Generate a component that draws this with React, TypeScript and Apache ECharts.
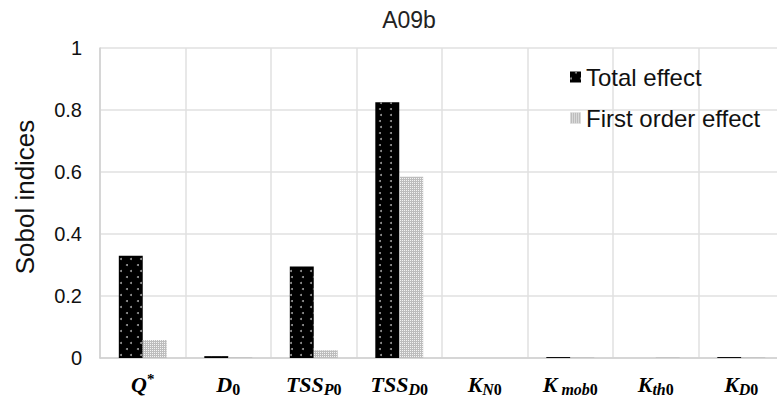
import React, { useEffect, useRef } from "react";
import * as echarts from "echarts";

const categories = ["Q", "D", "TSSP", "TSSD", "KN", "Kmob", "Kth", "KD"];
const categoryLabels = [
  "{m|Q}{sup|*}",
  "{m|D}{sub|0}",
  "{m|TSS}{subi|P}{sub|0}",
  "{m|TSS}{subi|D}{sub|0}",
  "{m|K}{subi|N}{sub|0}",
  "{m|K}{subi| mob}{sub|0}",
  "{m|K}{subi|th}{sub|0}",
  "{m|K}{subi|D}{sub|0}",
];
const totalEffect = [0.33, 0.006, 0.295, 0.825, 0, 0.003, 0, 0.003];
const firstOrderEffect = [0.058, 0.002, 0.025, 0.585, 0, 0.002, 0.002, 0.002];
const yTicks = [0, 0.2, 0.4, 0.6, 0.8, 1];

export default function App() {
  const ref = useRef<HTMLDivElement>(null);
  useEffect(() => {
    if (!ref.current) return;
    const chart = echarts.init(ref.current, null, { renderer: "svg" });
    const serif = "'Liberation Serif', 'DejaVu Serif', serif";
    const sans = "'Liberation Sans', Arial, Helvetica, sans-serif";
    chart.setOption({
      animation: false,
      backgroundColor: "#fff",
      title: {
        text: "A09b",
        left: 409,
        top: 8,
        padding: 0,
        textAlign: "center",
        textStyle: { fontFamily: sans, fontSize: 23, fontWeight: "normal", color: "#222" },
      },
      legend: {
        orient: "vertical",
        left: 570,
        top: 65,
        padding: 0,
        itemGap: 17,
        itemWidth: 11,
        itemHeight: 11,
        icon: "rect",
        textStyle: { fontFamily: sans, fontSize: 24, color: "#111", padding: [0, 0, 0, 0] },
        data: ["Total effect", "First order effect"],
      },
      graphic: [
        {
          type: "text",
          x: 25,
          y: 197,
          rotation: Math.PI / 2,
          style: {
            text: "Sobol indices",
            fontFamily: sans,
            fontSize: 26,
            fill: "#111",
            align: "center",
            verticalAlign: "middle",
          },
        },
      ],
      grid: {
        left: 100,
        width: 684,
        top: 48,
        height: 310,
        containLabel: false,
        outerBoundsMode: "none",
      },
      xAxis: {
        type: "category",
        data: categories,
        axisLine: { show: true, lineStyle: { color: "#d0d0d0", width: 1.5 } },
        axisTick: { show: false },
        splitLine: { show: true, interval: 0, lineStyle: { color: "#e0e0e0", width: 1.5 } },
        axisLabel: {
          margin: 13,
          interval: 0,
          formatter: (_v: string, i: number) => categoryLabels[i],
          rich: {
            m: { fontFamily: serif, fontStyle: "italic", fontWeight: "bold", fontSize: 22, color: "#000", lineHeight: 26 },
            sub: { fontFamily: serif, fontWeight: "bold", fontSize: 16, color: "#000", verticalAlign: "bottom", lineHeight: 17 },
            subi: { fontFamily: serif, fontStyle: "italic", fontWeight: "bold", fontSize: 16, color: "#000", verticalAlign: "bottom", lineHeight: 17 },
            sup: { fontFamily: serif, fontWeight: "bold", fontSize: 15, color: "#000", verticalAlign: "top", lineHeight: 15 },
          },
        },
      },
      yAxis: {
        type: "value",
        min: 0,
        max: 1,
        interval: 0.2,
        axisLine: { show: true, lineStyle: { color: "#d0d0d0", width: 1.5 } },
        axisTick: { show: false },
        splitLine: { show: true, lineStyle: { color: "#e0e0e0", width: 1.5 } },
        axisLabel: {
          margin: 18,
          fontFamily: sans,
          fontSize: 20,
          color: "#111",
          formatter: (v: number) => {
            const t = yTicks.find((x) => Math.abs(x - v) < 1e-9);
            return t === undefined ? "" : String(t);
          },
        },
      },
      series: [
        {
          name: "Total effect",
          type: "bar",
          data: totalEffect,
          barGap: "0%",
          barCategoryGap: "44%",
          itemStyle: {
            color: "#000",
            decal: {
              symbol: "circle",
              symbolSize: 1,
              color: "#9a9a9a",
              dashArrayX: [[1.2, 8], [0, 4.6, 1.2, 3.4]],
              dashArrayY: [1.2, 3.8],
              rotation: 0,
            },
          },
        },
        {
          name: "First order effect",
          type: "bar",
          data: firstOrderEffect,
          itemStyle: {
            color: "#bdbdbd",
            decal: {
              symbol: "rect",
              symbolSize: 1,
              color: "#f4f4f4",
              dashArrayX: [1, 1],
              dashArrayY: [1, 1],
              rotation: 0,
            },
          },
        },
      ],
    });
    return () => chart.dispose();
  }, []);
  return <div ref={ref} style={{ width: 777, height: 405, position: "fixed", left: 0, top: 0 }} />;
}
